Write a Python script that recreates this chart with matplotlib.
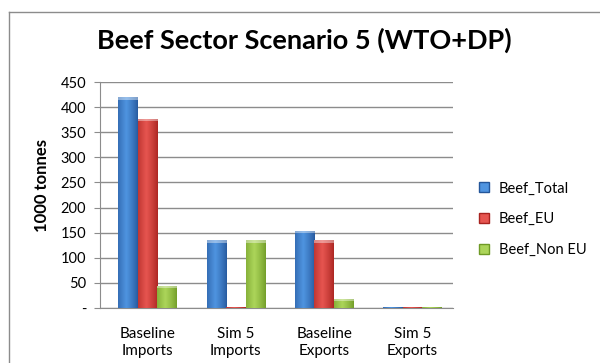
import matplotlib
matplotlib.use("Agg")
import matplotlib.pyplot as plt
from matplotlib.colors import to_rgb
from matplotlib.lines import Line2D
import numpy as np

plt.rcParams['font.family'] = ['Lato', 'DejaVu Sans']

categories = ["Baseline\nImports", "Sim 5\nImports", "Baseline\nExports", "Sim 5\nExports"]
series_names = ["Beef_Total", "Beef_EU", "Beef_Non EU"]
beef_total = [420, 135, 154, 1.5]
beef_eu = [377, 1.5, 135, 1.5]
beef_non_eu = [44, 135, 18, 1.5]
y_ticks = [0, 50, 100, 150, 200, 250, 300, 350, 400, 450]
y_tick_labels = ["-", "50", "100", "150", "200", "250", "300", "350", "400", "450"]

# (dark edge, light centre) for the cylinder-like shading
shades = [("#24569a", "#4f94e0"), ("#a8231f", "#e65550"), ("#6f9a26", "#acd55a")]


def shade_bar(ax, patch, dark, light):
    """Paints a horizontal gradient inside a bar to give it a rounded look."""
    x0, y0 = patch.get_x(), patch.get_y()
    w, h = patch.get_width(), patch.get_height()
    if h <= 0:
        return
    t = np.linspace(0, 1, 64)
    # brightest a bit left of centre, darker towards both edges
    prof = np.clip(1 - np.abs(t - 0.42) / 0.6, 0, 1) ** 0.8
    d, l = np.array(to_rgb(dark)), np.array(to_rgb(light))
    img = d[None, :] + (l - d)[None, :] * prof[:, None]
    img = img[None, :, :]
    im = ax.imshow(img, extent=(x0, x0 + w, y0, y0 + h), aspect='auto',
                   zorder=patch.get_zorder() + 0.1, interpolation='bilinear')
    im.set_clip_path(patch)
    # lighter cap on top of taller bars
    if h > 10:
        cap = np.clip(img * 0.6 + 0.4, 0, 1)
        im2 = ax.imshow(cap, extent=(x0, x0 + w, y0 + h - 5, y0 + h), aspect='auto',
                        zorder=patch.get_zorder() + 0.2, interpolation='bilinear')
        im2.set_clip_path(patch)


fig = plt.figure(figsize=(6, 3.63), dpi=100)
ax = fig.add_axes([0.1667, 0.1515, 0.5883, 0.6226])

x = np.arange(len(categories))
width = 0.222
for i, vals in enumerate([beef_total, beef_eu, beef_non_eu]):
    rects = ax.bar(x + (i - 1) * width, vals, width, color=shades[i][0],
                   label=series_names[i], zorder=3, linewidth=0)
    for r in rects:
        shade_bar(ax, r, *shades[i])

ax.set_xlim(-0.54, len(categories) - 0.54)
ax.set_ylim(0, 450)
ax.set_yticks(y_ticks, y_tick_labels)
ax.set_xticks(x, categories)
ax.yaxis.grid(True, color="#8c8c8c", linewidth=1)
ax.set_axisbelow(True)

for side in ("top", "right"):
    ax.spines[side].set_visible(False)
ax.spines["left"].set_color("#8c8c8c")
ax.spines["bottom"].set_color("#8c8c8c")
ax.tick_params(axis='y', direction='out', length=4, color="#8c8c8c", labelsize=10.5, pad=6)
ax.tick_params(axis='x', length=0, labelsize=11, pad=14)
for lbl in ax.get_xticklabels():
    lbl.set_linespacing(1.25)

ax.set_ylabel("1000 tonnes", fontsize=12, fontweight='bold')
ax.yaxis.set_label_coords(-0.142, 0.54)

fig.text(0.508, 0.888, "Beef Sector Scenario 5 (WTO+DP)", ha='center', va='center',
         fontsize=19.5, fontweight='bold')

handles = [Line2D([], [], linestyle='none', marker='s', markersize=7,
                  markerfacecolor=shades[i][1], markeredgecolor=shades[i][0])
           for i in range(3)]
fig.legend(handles, series_names, loc='center left', bbox_to_anchor=(0.775, 0.396),
           frameon=False, fontsize=10.5, handlelength=0.8, handletextpad=0.6,
           labelspacing=1.15)

# chart frame (only top and left edges visible)
fig.add_artist(Line2D([0.015, 1.0], [0.967, 0.967], color="#8c8c8c", linewidth=1,
                      transform=fig.transFigure))
fig.add_artist(Line2D([0.015, 0.015], [0.0, 0.967], color="#8c8c8c", linewidth=1,
                      transform=fig.transFigure))

fig.savefig("out.png", dpi=100, facecolor="white")
